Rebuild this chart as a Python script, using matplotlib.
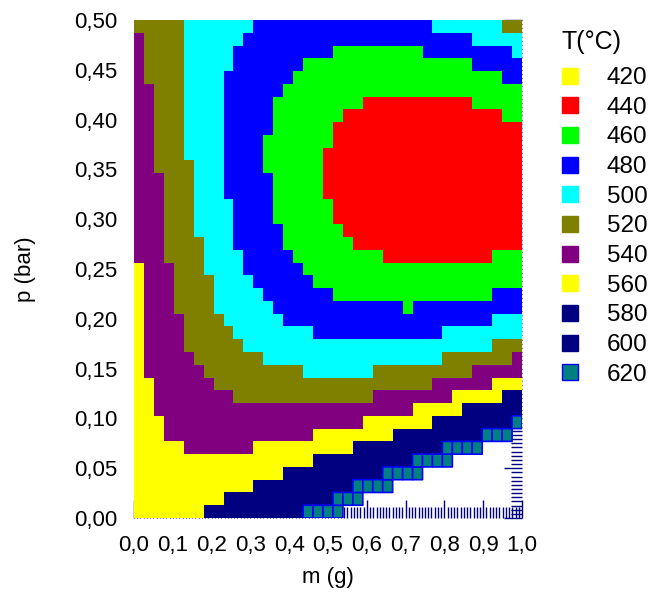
import numpy as np
import matplotlib
matplotlib.use("Agg")
import matplotlib.pyplot as plt
from matplotlib.colors import ListedColormap, BoundaryNorm
from matplotlib.lines import Line2D
from matplotlib.ticker import AutoMinorLocator

plt.rcParams['font.family'] = ['Liberation Sans', 'DejaVu Sans']

# temperature classes (°C) and their colours
levels = [420, 440, 460, 480, 500, 520, 540, 560, 580, 600, 620]
level_colors = ['#ffff00', '#ff0000', '#00ff00', '#0000ff', '#00ffff', '#808000',
                '#800080', '#ffff00', '#000080', '#000080', '#008080']
codes = 'abcdefghijk'  # one letter per class, '.' = no value

x_ticks = [0.0, 0.1, 0.2, 0.3, 0.4, 0.5, 0.6, 0.7, 0.8, 0.9, 1.0]
y_ticks = [0.00, 0.05, 0.10, 0.15, 0.20, 0.25, 0.30, 0.35, 0.40, 0.45, 0.50]
x_labels = ['0,0', '0,1', '0,2', '0,3', '0,4', '0,5', '0,6', '0,7', '0,8', '0,9', '1,0']
y_labels = ['0,00', '0,05', '0,10', '0,15', '0,20', '0,25', '0,30', '0,35', '0,40', '0,45', '0,50']

# 39 x 39 cells, m 0..1 (columns), p 0..0.5 (rows)
# rows listed from p = 0.5 down to p = 0, run-length coded "<class><count>"
rows = [
    "f5 e7 d18 e7 f2",
    "g1 f4 e6 d23 e5",
    "g1 f4 e5 d10 c9 d9 e1",
    "g1 f4 e5 d7 c17 d5",
    "g1 f4 e4 d7 c21 d2",
    "g2 f3 e4 d6 c24",
    "g2 f3 e4 d5 c9 b11 c5",
    "g2 f3 e4 d5 c7 b16 c2",
    "g2 f3 e4 d5 c6 b19",
    "g2 f3 e4 d4 c7 b19",
    "g2 f3 e4 d4 c6 b20",
    "g2 f4 e3 d4 c6 b20",
    "g3 f3 e3 d5 c5 b20",
    "g3 f3 e3 d5 c5 b20",
    "g3 f3 e4 d4 c6 b19",
    "g3 f3 e4 d4 c6 b19",
    "g3 f3 e4 d5 c6 b18",
    "g3 f4 e3 d5 c7 b17",
    "g3 f4 e4 d5 c9 b11 c3",
    "h1 g3 f3 e4 d6 c22",
    "h1 g3 f4 e4 d6 c21",
    "h1 g3 f4 e5 d7 c16 d3",
    "h1 g3 f4 e6 d13 c1 d11",
    "h1 g4 f4 e6 d21 e3",
    "h1 g4 f5 e8 d13 e8",
    "h1 g4 f6 e25 f3",
    "h1 g5 f7 e18 f7 g1",
    "h1 g6 f10 e7 f10 g5",
    "h2 g6 f22 g6 h3",
    "h2 g8 f14 g8 h5 i2",
    "h2 g26 h5 i3 j3",
    "h3 g20 h7 i4 j4 k1",
    "h3 g15 h8 i5 j4 k3 .1",
    "h5 g7 h10 i5 j4 k4 .4",
    "h18 i5 j5 k4 .7",
    "h15 i5 j5 k4 .10",
    "h12 i5 j5 k4 .13",
    "h9 i6 j5 k3 .16",
    "h7 i5 j5 k4 .18",
]


def decode(row):
    out = []
    for tok in row.split():
        val = np.nan if tok[0] == '.' else codes.index(tok[0])
        out += [val] * int(tok[1:])
    return out


Z = np.array([decode(r) for r in rows[::-1]], dtype=float)
n_p, n_m = Z.shape
m_edges = np.linspace(0, 1, n_m + 1)
p_edges = np.linspace(0, 0.5, n_p + 1)

cmap = ListedColormap(level_colors)
norm = BoundaryNorm(np.arange(-0.5, len(levels)), cmap.N)

fig = plt.figure(figsize=(6.61, 5.96), dpi=100)
ax = fig.add_axes([134 / 661, 1 - 518 / 596, 388 / 661, 498 / 596])

main = np.ma.masked_where(np.isnan(Z) | (Z == 10), Z)
ax.pcolormesh(m_edges, p_edges, main, cmap=cmap, norm=norm, antialiased=False, zorder=1)
teal = np.ma.masked_where(Z != 10, Z)
ax.pcolor(m_edges, p_edges, teal, cmap=cmap, norm=norm, edgecolors='#0000ff',
          linewidth=1.2, zorder=2)

ax.set_xlim(0, 1)
ax.set_ylim(0, 0.5)
ax.set_xticks(x_ticks)
ax.set_xticklabels(x_labels)
ax.set_yticks(y_ticks)
ax.set_yticklabels(y_labels)
ax.xaxis.set_minor_locator(AutoMinorLocator(12))
ax.yaxis.set_minor_locator(AutoMinorLocator(12))
ax.set_axisbelow(True)
ax.tick_params(which='both', direction='in', color='#000080', width=1,
               bottom=True, right=True, left=False, top=False, labelsize=16, pad=12)
ax.tick_params(which='major', length=13)
ax.tick_params(which='minor', length=8)
for s in ax.spines.values():
    s.set_visible(False)

ax.set_xlabel('m (g)', fontsize=16, labelpad=8)
ax.set_ylabel('p (bar)', fontsize=16, labelpad=27)

handles = []
for lvl, col in zip(levels, level_colors):
    edge = '#0000ff' if lvl == 620 else col
    handles.append(Line2D([], [], linestyle='none', marker='s', markersize=11,
                          markerfacecolor=col, markeredgecolor=edge, markeredgewidth=1))
fig.text(561 / 661, 1 - 42 / 596, 'T(°C)', fontsize=18, ha='left', va='center')
fig.legend(handles, [str(l) for l in levels], loc='upper left',
           bbox_to_anchor=(558 / 661, 1 - 67 / 596), frameon=False, fontsize=17.5,
           handlelength=1.0, handletextpad=1.0, labelspacing=0.315,
           borderpad=0, borderaxespad=0)

fig.savefig('out.png', dpi=100)
